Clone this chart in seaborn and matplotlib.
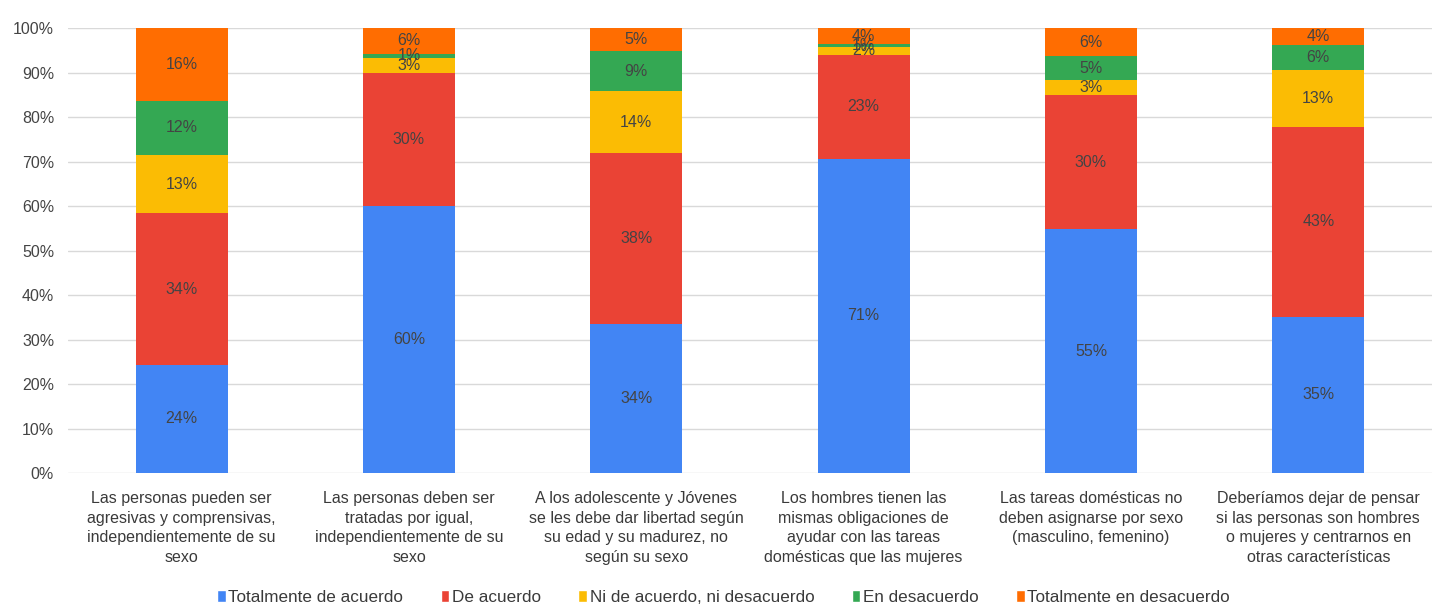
import numpy as np
import pandas as pd
import seaborn as sns
import matplotlib
matplotlib.use('Agg')
import matplotlib.pyplot as plt
from matplotlib.patches import Patch

categories = [
    "Las personas pueden ser\nagresivas y comprensivas,\nindependientemente de su\nsexo",
    "Las personas deben ser\ntratadas por igual,\nindependientemente de su\nsexo",
    "A los adolescente y Jóvenes\nse les debe dar libertad según\nsu edad y su madurez, no\nsegún su sexo",
    "Los hombres tienen las\nmismas obligaciones de\nayudar con las tareas\ndomésticas que las mujeres",
    "Las tareas domésticas no\ndeben asignarse por sexo\n(masculino, femenino)",
    "Deberíamos dejar de pensar\nsi las personas son hombres\no mujeres y centrarnos en\notras características",
]
series = ["Totalmente de acuerdo", "De acuerdo", "Ni de acuerdo, ni desacuerdo",
          "En desacuerdo", "Totalmente en desacuerdo"]
totalmente_acuerdo = [24.3, 60.1, 33.6, 70.6, 54.8, 35.1]
de_acuerdo = [34.1, 29.8, 38.3, 23.4, 30.1, 42.7]
ni_ni = [13.1, 3.4, 13.9, 1.8, 3.4, 12.8]
en_desacuerdo = [12.1, 0.9, 9.0, 0.6, 5.4, 5.6]
totalmente_desacuerdo = [16.4, 5.8, 5.2, 3.6, 6.3, 3.8]
colors = ["#4285F4", "#EA4335", "#FBBC04", "#34A853", "#FF6D01"]

values = np.array([totalmente_acuerdo, de_acuerdo, ni_ni, en_desacuerdo, totalmente_desacuerdo])
cum = values.cumsum(axis=0)

sns.set_style("white")
plt.rcParams['font.family'] = ['Liberation Sans', 'DejaVu Sans']

fig = plt.figure(figsize=(14.47, 6.07), dpi=100)
ax = fig.add_axes([0.047, 0.2207, 0.9426, 0.7331])

# draw cumulative totals from the top layer down so each covers the one above it
for i in range(len(series) - 1, -1, -1):
    df = pd.DataFrame({"cat": categories, "top": cum[i]})
    sns.barplot(data=df, x="cat", y="top", color=colors[i], width=0.405,
                saturation=1, ax=ax, linewidth=0)

for i in range(len(series)):
    for j in range(len(categories)):
        v = values[i, j]
        ax.text(j, cum[i, j] - v / 2, f"{round(v)}%", ha="center", va="center",
                fontsize=11.5, color="#444444")

ax.set_ylim(0, 100)
ax.set_yticks(np.arange(0, 101, 10))
ax.set_yticklabels([f"{t}%" for t in range(0, 101, 10)])
ax.set_xlim(-0.5, len(categories) - 0.5)
ax.yaxis.grid(True, color="#d9d9d9", linewidth=1)
ax.set_axisbelow(True)
for s in ax.spines.values():
    s.set_visible(False)
ax.set_xlabel("")
ax.set_ylabel("")
ax.tick_params(axis="y", labelsize=11.5, labelcolor="#444444", length=0, pad=10)
ax.tick_params(axis="x", labelsize=11.5, labelcolor="#3a3a3a", length=0, pad=13)
for lbl in ax.get_xticklabels():
    lbl.set_linespacing(1.38)

handles = [Patch(facecolor=c, label=s) for c, s in zip(colors, series)]
fig.legend(handles=handles, loc="lower center", bbox_to_anchor=(0.5, -0.022), ncol=5,
           frameon=False, fontsize=12.3, handlelength=0.5, handleheight=0.7,
           handletextpad=0.15, columnspacing=2.2, labelcolor="#3a3a3a")

fig.savefig("out.png", dpi=100)
